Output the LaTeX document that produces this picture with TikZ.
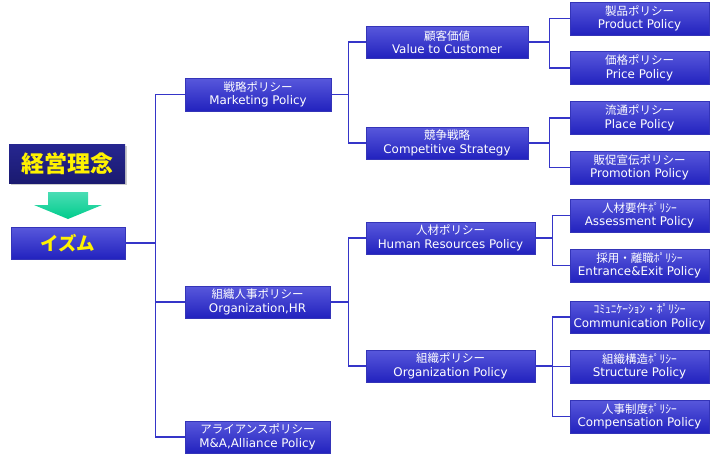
\documentclass[tikz,border=0pt]{standalone}
\usepackage{fontspec}
\setmainfont{Noto Sans CJK JP}
\newfontfamily\latinf{DejaVu Sans}
\usetikzlibrary{shadows}
\definecolor{boxtop}{HTML}{5858DC}
\definecolor{boxbot}{HTML}{2222BE}
\definecolor{boxline}{HTML}{3434B8}
\definecolor{linkc}{HTML}{3535C8}
\definecolor{navytop}{HTML}{262690}
\definecolor{navybot}{HTML}{1A1A70}
\definecolor{arrtop}{HTML}{4ADDB4}
\definecolor{arrbot}{HTML}{00CC8C}
\newcommand{\lbl}[2]{#1\\[-1pt]{\latinf\fontsize{11.9}{14.5}\selectfont #2}}
\tikzset{
  pbox/.style={draw=boxline, line width=0.8pt, top color=boxtop, bottom color=boxbot,
    text=white, align=center, inner sep=0pt, font=\fontsize{11.5}{14.5}\selectfont,
    minimum height=32pt},
  w1/.style={pbox, minimum width=145pt},
  w2/.style={pbox, minimum width=162pt},
  w2b/.style={pbox, minimum width=169pt},
  w3/.style={pbox, minimum width=139pt, minimum height=33pt},
  link/.style={draw=linkc, line width=1.1pt},
}
\begin{document}
\begin{tikzpicture}[x=1pt,y=-1pt]
\useasboundingbox (0,0) rectangle (711,459);
% top idea box
\node[draw=none, top color=navytop, bottom color=navybot, minimum width=116pt, minimum height=39pt,
  inner sep=0pt, text=yellow, font=\fontsize{23}{26}\selectfont\bfseries,
  drop shadow={shadow xshift=1.5pt, shadow yshift=-2pt, opacity=0.4}] (rinen) at (67,163.5) {経営理念};
% arrow
\shade[top color=arrtop, bottom color=arrbot] (48,192) -- (88,192) -- (88,205) -- (102,205) -- (68,219) -- (34,205) -- (48,205) -- cycle;
\node[pbox, minimum width=114pt, minimum height=32pt, text=yellow,
  font=\fontsize{18.5}{21}\selectfont\bfseries] (ism) at (68,243) {イズム};
% level 1
\node[w1, minimum width=146pt, minimum height=33pt] (mkt) at (258,94.5) {\lbl{戦略ポリシー}{Marketing Policy}};
\node[w1] (org) at (257.5,302) {\lbl{組織人事ポリシー}{Organization,HR}};
\node[w1] (ali) at (257.5,437) {\lbl{アライアンスポリシー}{M\&A,Alliance Policy}};
% level 2
\node[w2] (val) at (447,42) {\lbl{顧客価値}{Value to Customer}};
\node[w2] (comp) at (447,143) {\lbl{競争戦略}{Competitive Strategy}};
\node[w2b] (hr) at (450.5,238) {\lbl{人材ポリシー}{Human Resources Policy}};
\node[w2b] (orgp) at (450.5,366) {\lbl{組織ポリシー}{Organization Policy}};
% level 3
\node[w3] (prod) at (639.5,18.5) {\lbl{製品ポリシー}{Product Policy}};
\node[w3] (price) at (639.5,68) {\lbl{価格ポリシー}{Price Policy}};
\node[w3] (place) at (639.5,118) {\lbl{流通ポリシー}{Place Policy}};
\node[w3] (promo) at (639.5,167.5) {\lbl{販促宣伝ポリシー}{Promotion Policy}};
\node[w3] (assess) at (639.5,215.5) {\lbl{人材要件ﾎﾟﾘｼｰ}{Assessment Policy}};
\node[w3] (entr) at (639.5,265.5) {\lbl{採用・離職ﾎﾟﾘｼｰ}{Entrance\&Exit Policy}};
\node[w3, minimum height=32pt] (comm) at (639.5,317) {\lbl{ｺﾐｭﾆｹｰｼｮﾝ・ﾎﾟﾘｼｰ}{Communication Policy}};
\node[w3] (struct) at (639.5,366.5) {\lbl{組織構造ﾎﾟﾘｼｰ}{Structure Policy}};
\node[w3] (compens) at (639.5,416.5) {\lbl{人事制度ﾎﾟﾘｼｰ}{Compensation Policy}};
% connectors
\draw[link] (ism.east) -- ++(30,0) |- (mkt.west);
\draw[link] (ism.east) -- ++(30,0) |- (org.west);
\draw[link] (ism.east) -- ++(30,0) |- (ali.west);
\draw[link] (mkt.east) -- ++(17,0) |- (val.west);
\draw[link] (mkt.east) -- ++(17,0) |- (comp.west);
\draw[link] (org.east) -- ++(18,0) |- (hr.west);
\draw[link] (org.east) -- ++(18,0) |- (orgp.west);
\draw[link] (val.east) -- ++(21,0) |- (prod.west);
\draw[link] (val.east) -- ++(21,0) |- (price.west);
\draw[link] (comp.east) -- ++(21,0) |- (place.west);
\draw[link] (comp.east) -- ++(21,0) |- (promo.west);
\draw[link] (hr.east) -- ++(17,0) |- (assess.west);
\draw[link] (hr.east) -- ++(17,0) |- (entr.west);
\draw[link] (orgp.east) -- ++(17,0) |- (comm.west);
\draw[link] (orgp.east) -- ++(17,0) |- (struct.west);
\draw[link] (orgp.east) -- ++(17,0) |- (compens.west);
\end{tikzpicture}
\end{document}
